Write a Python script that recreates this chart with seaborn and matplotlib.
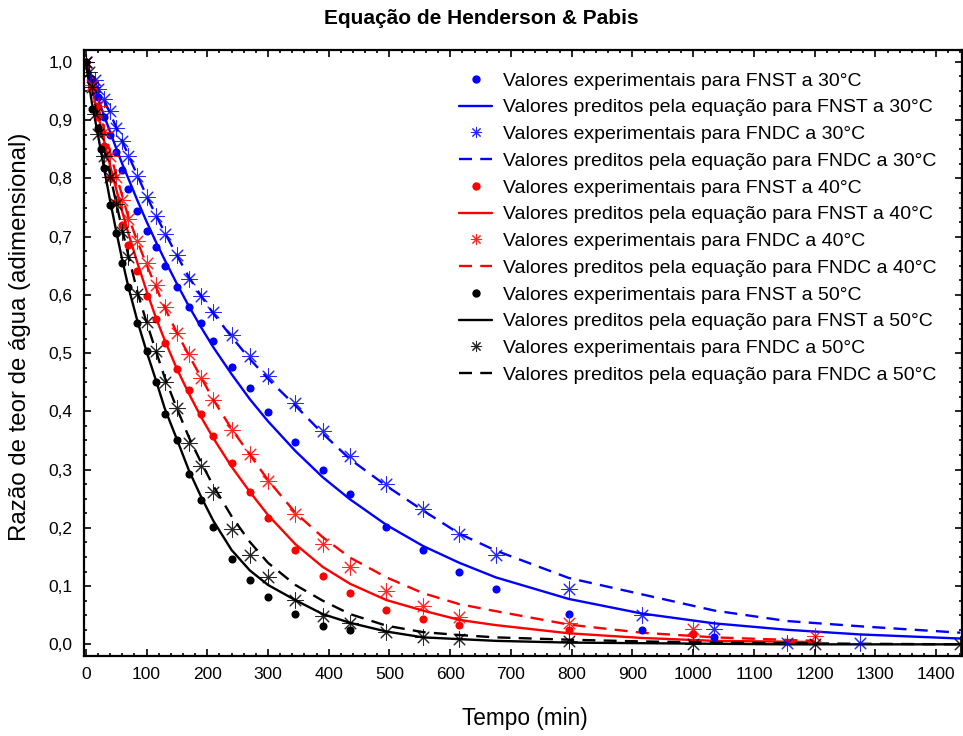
import matplotlib
matplotlib.use("Agg")
import matplotlib.pyplot as plt
from matplotlib import ticker
from matplotlib.lines import Line2D
import seaborn as sns

# --- dados: tempo (min) e razao de teor de agua ---

# FNST 30 C
t_fnst30 = [0, 10, 20, 30, 40, 50, 60, 70, 85, 100, 115, 130, 150, 170, 190, 210, 240, 270, 300,
            345, 390, 435, 495, 555, 615, 675, 795, 915, 1035]
mr_fnst30 = [1.00, 0.97, 0.94, 0.905, 0.874, 0.845, 0.814, 0.781, 0.744, 0.710, 0.682, 0.650, 0.613,
             0.580, 0.551, 0.521, 0.477, 0.440, 0.399, 0.347, 0.299, 0.258, 0.202, 0.162, 0.125,
             0.095, 0.052, 0.025, 0.012]
tp_fnst30 = [0, 10, 20, 30, 40, 50, 60, 70, 85, 100, 115, 130, 150, 170, 190, 210, 240, 270, 300,
             345, 390, 435, 495, 555, 615, 675, 795, 915, 1035, 1155, 1275, 1440]
pred_fnst30 = [1.00, 0.968, 0.938, 0.908, 0.88, 0.852, 0.825, 0.80, 0.762, 0.726, 0.692, 0.66, 0.619,
               0.58, 0.544, 0.51, 0.464, 0.421, 0.383, 0.332, 0.287, 0.249, 0.205, 0.169, 0.14,
               0.115, 0.078, 0.053, 0.036, 0.025, 0.017, 0.010]

# FNDC 30 C
t_fndc30 = [0, 15, 20, 30, 40, 50, 60, 70, 85, 100, 115, 130, 150, 170, 190, 210, 240, 270, 300,
            345, 390, 435, 495, 555, 615, 675, 795, 915, 1035, 1155, 1275]
mr_fndc30 = [1.00, 0.969, 0.954, 0.937, 0.915, 0.887, 0.864, 0.839, 0.804, 0.768, 0.736, 0.704, 0.668,
             0.627, 0.598, 0.571, 0.531, 0.495, 0.461, 0.414, 0.366, 0.324, 0.275, 0.232, 0.190,
             0.154, 0.095, 0.050, 0.026, 0.003, 0.002]
tp_fndc30 = [0, 10, 20, 30, 40, 50, 60, 70, 85, 100, 115, 130, 150, 170, 190, 210, 240, 270, 300,
             345, 390, 435, 495, 555, 615, 675, 795, 915, 1035, 1155, 1275, 1440]
pred_fndc30 = [1.00, 0.975, 0.955, 0.935, 0.912, 0.888, 0.864, 0.84, 0.805, 0.77, 0.738, 0.707, 0.668,
               0.63, 0.598, 0.568, 0.528, 0.49, 0.456, 0.41, 0.362, 0.318, 0.272, 0.23, 0.19,
               0.161, 0.114, 0.086, 0.058, 0.04, 0.031, 0.02]

# FNST 40 C
t_fnst40 = [0, 10, 20, 30, 40, 50, 60, 70, 85, 100, 115, 130, 150, 170, 190, 210, 240, 270, 300,
            345, 390, 435, 495, 555, 615, 795, 1000]
mr_fnst40 = [1.00, 0.955, 0.905, 0.855, 0.80, 0.76, 0.72, 0.686, 0.641, 0.598, 0.559, 0.518, 0.473,
             0.436, 0.396, 0.358, 0.311, 0.262, 0.217, 0.162, 0.118, 0.088, 0.059, 0.043, 0.033,
             0.024, 0.017]
tp_fnst40 = [0, 10, 20, 30, 40, 50, 60, 70, 85, 100, 115, 130, 150, 170, 190, 210, 240, 270, 300,
             345, 390, 435, 495, 555, 615, 675, 795, 915, 1035, 1200]
pred_fnst40 = [1.00, 0.955, 0.91, 0.865, 0.822, 0.782, 0.743, 0.706, 0.655, 0.607, 0.562, 0.522, 0.473,
               0.43, 0.39, 0.354, 0.305, 0.262, 0.222, 0.172, 0.133, 0.104, 0.076, 0.058, 0.042,
               0.033, 0.019, 0.011, 0.006, 0.004]

# FNDC 40 C
t_fndc40 = [0, 10, 20, 30, 40, 50, 60, 70, 85, 100, 115, 130, 150, 170, 190, 210, 240, 270, 300,
            345, 390, 435, 495, 555, 615, 795, 1000, 1200]
mr_fndc40 = [1.00, 0.96, 0.925, 0.88, 0.839, 0.802, 0.763, 0.731, 0.692, 0.654, 0.617, 0.579, 0.535,
             0.498, 0.458, 0.420, 0.368, 0.326, 0.280, 0.224, 0.172, 0.132, 0.092, 0.066, 0.047,
             0.037, 0.026, 0.015]
tp_fndc40 = [0, 10, 20, 30, 40, 50, 60, 70, 85, 100, 115, 130, 150, 170, 190, 210, 240, 270, 300,
             345, 390, 435, 495, 555, 615, 675, 795, 915, 1035, 1200]
pred_fndc40 = [1.00, 0.965, 0.925, 0.885, 0.845, 0.806, 0.77, 0.734, 0.692, 0.652, 0.615, 0.578, 0.535,
               0.496, 0.458, 0.42, 0.37, 0.326, 0.282, 0.226, 0.184, 0.149, 0.115, 0.088, 0.069,
               0.057, 0.034, 0.02, 0.012, 0.006]

# FNST 50 C
t_fnst50 = [0, 10, 20, 25, 30, 40, 50, 60, 70, 85, 100, 115, 130, 150, 170, 190, 210, 240, 270, 300,
            345, 390, 435]
mr_fnst50 = [1.00, 0.92, 0.887, 0.851, 0.818, 0.755, 0.707, 0.655, 0.614, 0.552, 0.503, 0.451, 0.396,
             0.351, 0.292, 0.248, 0.202, 0.147, 0.110, 0.082, 0.052, 0.032, 0.025]
tp_fnst50 = [0, 10, 20, 30, 40, 50, 60, 70, 85, 100, 115, 130, 150, 170, 190, 210, 240, 270, 300,
             345, 390, 435, 495, 555, 615, 675, 795, 915, 1035, 1155, 1275, 1440]
pred_fnst50 = [1.00, 0.93, 0.875, 0.818, 0.762, 0.71, 0.66, 0.614, 0.555, 0.503, 0.455, 0.405, 0.352,
               0.298, 0.253, 0.212, 0.162, 0.127, 0.102, 0.076, 0.052, 0.037, 0.022, 0.012, 0.009,
               0.006, 0.003, 0.002, 0.001, 0.0, 0.0, 0.0]

# FNDC 50 C
t_fndc50 = [0, 5, 10, 15, 20, 30, 40, 50, 60, 70, 85, 100, 115, 130, 150, 170, 190, 210, 240, 270, 300,
            345, 390, 435, 495, 555, 615, 795, 1000, 1200, 1440]
mr_fndc50 = [1.00, 0.982, 0.957, 0.911, 0.877, 0.839, 0.803, 0.756, 0.708, 0.665, 0.602, 0.553, 0.503,
             0.450, 0.405, 0.346, 0.306, 0.261, 0.198, 0.154, 0.115, 0.076, 0.049, 0.037, 0.021,
             0.013, 0.009, 0.006, 0.0, 0.0, 0.0]
tp_fndc50 = [0, 10, 20, 30, 40, 50, 60, 70, 85, 100, 115, 130, 150, 170, 190, 210, 240, 270, 300,
             345, 390, 435, 495, 555, 615, 675, 795, 915, 1035, 1155, 1275, 1440]
pred_fndc50 = [1.00, 0.957, 0.905, 0.855, 0.806, 0.758, 0.712, 0.668, 0.605, 0.553, 0.505, 0.458, 0.405,
               0.355, 0.312, 0.272, 0.22, 0.176, 0.14, 0.102, 0.075, 0.052, 0.032, 0.021, 0.016,
               0.012, 0.008, 0.005, 0.003, 0.002, 0.001, 0.0]

blue, red, black = '#0000ff', '#ff0000', '#000000'
star = (8, 2, 0)
dash = (0, (5.5, 3.5))

series = [
    ('Valores experimentais para FNST a 30°C', t_fnst30, mr_fnst30, 'dot', blue),
    ('Valores preditos pela equação para FNST a 30°C', tp_fnst30, pred_fnst30, 'solid', blue),
    ('Valores experimentais para FNDC a 30°C', t_fndc30, mr_fndc30, 'star', blue),
    ('Valores preditos pela equação para FNDC a 30°C', tp_fndc30, pred_fndc30, 'dash', blue),
    ('Valores experimentais para FNST a 40°C', t_fnst40, mr_fnst40, 'dot', red),
    ('Valores preditos pela equação para FNST a 40°C', tp_fnst40, pred_fnst40, 'solid', red),
    ('Valores experimentais para FNDC a 40°C', t_fndc40, mr_fndc40, 'star', red),
    ('Valores preditos pela equação para FNDC a 40°C', tp_fndc40, pred_fndc40, 'dash', red),
    ('Valores experimentais para FNST a 50°C', t_fnst50, mr_fnst50, 'dot', black),
    ('Valores preditos pela equação para FNST a 50°C', tp_fnst50, pred_fnst50, 'solid', black),
    ('Valores experimentais para FNDC a 50°C', t_fndc50, mr_fndc50, 'star', black),
    ('Valores preditos pela equação para FNDC a 50°C', tp_fndc50, pred_fndc50, 'dash', black),
]

sns.set_style("ticks")
plt.rcParams['font.family'] = ['Liberation Sans', 'DejaVu Sans']
plt.rcParams['text.color'] = 'black'
plt.rcParams['xtick.color'] = 'black'
plt.rcParams['ytick.color'] = 'black'
plt.rcParams['axes.edgecolor'] = 'black'

fig = plt.figure(figsize=(9.63, 7.36), dpi=100)
ax = fig.add_axes([0.0872, 0.1087, 0.912, 0.823])

handles = []
for label, t, v, kind, c in series:
    if kind == 'dot':
        sns.scatterplot(x=t, y=v, ax=ax, color=c, marker='o', s=34, linewidth=0, zorder=4, legend=False)
        h = Line2D([], [], ls='', marker='o', color=c, markersize=5)
    elif kind == 'star':
        sns.scatterplot(x=t, y=v, ax=ax, color=c, marker=star, s=120, linewidth=0.75, alpha=0.85,
                        zorder=4, legend=False)
        h = Line2D([], [], ls='', marker=star, color=c, markersize=8, markeredgewidth=0.75, alpha=0.85)
    elif kind == 'solid':
        sns.lineplot(x=t, y=v, ax=ax, color=c, lw=1.7, zorder=3, legend=False)
        h = Line2D([], [], color=c, lw=1.7)
    else:
        sns.lineplot(x=t, y=v, ax=ax, color=c, lw=1.7, linestyle=dash, zorder=3, legend=False)
        h = Line2D([], [], color=c, lw=1.7, linestyle=dash)
    handles.append(h)

ax.set_xlim(-3, 1443)
ax.set_ylim(-0.02, 1.02)
ax.xaxis.set_major_locator(ticker.MultipleLocator(100))
ax.xaxis.set_minor_locator(ticker.MultipleLocator(20))
ax.yaxis.set_major_locator(ticker.MultipleLocator(0.1))
ax.yaxis.set_minor_locator(ticker.MultipleLocator(0.025))
ax.yaxis.set_major_formatter(ticker.FuncFormatter(lambda v, p: f"{v:.1f}".replace('.', ',')))
ax.tick_params(which='both', direction='in', top=True, right=True, width=1.2, color='black')
ax.tick_params(which='major', length=5, labelsize=12.5, pad=8, labelcolor='black')
ax.tick_params(which='minor', length=2.5)
for s in ax.spines.values():
    s.set_linewidth(1.6)
    s.set_color('black')
ax.set_xlabel('')
ax.set_ylabel('')

ax.legend(handles, [s[0] for s in series], loc='upper left',
          bbox_to_anchor=(459 / 963, 1 - 72 / 736), bbox_transform=fig.transFigure,
          frameon=False, fontsize=14, handlelength=1.7, handletextpad=0.57,
          labelspacing=0.47, borderpad=0, borderaxespad=0)

fig.text(0.5, 1 - 18 / 736, 'Equação de Henderson & Pabis', ha='center', va='center',
         fontsize=15, fontweight='bold')
fig.text(20 / 963, 1 - 337 / 736, 'Razão de teor de água (adimensional)', rotation=90,
         ha='center', va='center', fontsize=17.3)
fig.text(525 / 963, 1 - 718 / 736, 'Tempo (min)', ha='center', va='center', fontsize=16.3)

fig.savefig('out.png', dpi=100)
